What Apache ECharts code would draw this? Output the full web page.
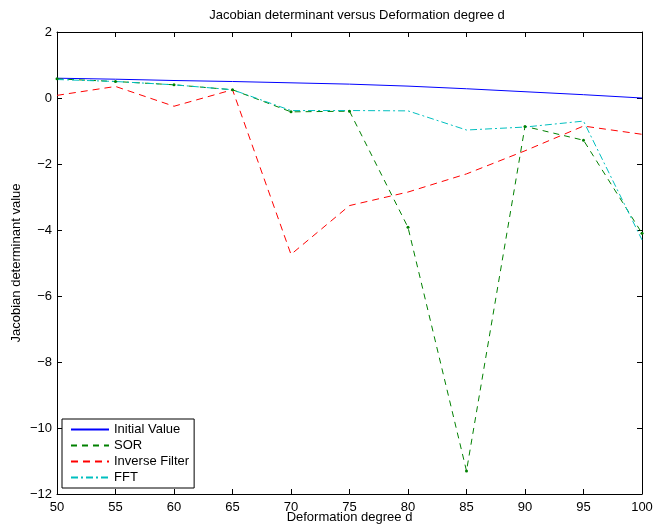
<!DOCTYPE html>
<html>
<head>
<meta charset="utf-8">
<script src="https://cdn.jsdelivr.net/npm/echarts@6/dist/echarts.min.js"></script>
<style>
    html, body { margin: 0; padding: 0; background: #fff; }
    #myChart { width: 655px; height: 527px; }
</style>
</head>
<body>
<div id="myChart"></div>
<script>
    // deformation degree d
    var degrees = [50, 55, 60, 65, 70, 75, 80, 85, 90, 95, 100];
    var initialValue = [0.6, 0.57, 0.53, 0.5, 0.46, 0.42, 0.36, 0.28, 0.19, 0.1, 0.0];
    var sor = [0.58, 0.5, 0.4, 0.25, -0.42, -0.4, -3.92, -11.3, -0.86, -1.28, -4.1];
    var inverseFilter = [0.08, 0.35, -0.25, 0.25, -4.74, -3.26, -2.85, -2.3, -1.6, -0.85, -1.1];
    var fft = [0.56, 0.5, 0.4, 0.25, -0.38, -0.38, -0.39, -0.97, -0.88, -0.7, -4.3];
    var xTicks = [50, 55, 60, 65, 70, 75, 80, 85, 90, 95, 100];
    var yTicks = [-12, -10, -8, -6, -4, -2, 0, 2];

    function pairs(vals) {
        var out = [];
        for (var i = 0; i < degrees.length; i++) {
            out.push([degrees[i], vals[i]]);
        }
        return out;
    }

    var font = 'Liberation Sans, Arial, Helvetica, sans-serif';
    var fs = 13;
    var axisLine = {show: true, onZero: false, lineStyle: {color: '#000', width: 1}};
    var axisTick = {show: true, inside: true, length: 5, lineStyle: {color: '#000'}};

    var myChart = echarts.init(document.getElementById('myChart'));
    myChart.setOption({
        animation: false,
        textStyle: {fontFamily: font},
        title: {
            text: 'Jacobian determinant versus Deformation degree d',
            left: 352,
            textAlign: 'center',
            top: 4,
            textStyle: {fontSize: fs, fontWeight: 'normal', color: '#000', fontFamily: font}
        },
        grid: {left: 57, right: 13, top: 32, bottom: 33, outerBoundsMode: 'none', containLabel: false},
        legend: {
            left: 62,
            top: 419,
            orient: 'vertical',
            backgroundColor: '#fff',
            borderColor: '#000',
            borderWidth: 1,
            borderRadius: 0,
            padding: [4, 5, 4, 8],
            itemGap: 3,
            itemWidth: 38,
            itemHeight: 11,
            itemStyle: {opacity: 0},
            textStyle: {fontSize: fs, color: '#000', fontFamily: font},
            data: ['Initial Value', 'SOR', 'Inverse Filter', 'FFT']
        },
        xAxis: [{
            type: 'value',
            min: 50,
            max: 100,
            interval: 5,
            name: 'Deformation degree d',
            nameLocation: 'middle',
            nameGap: 17,
            nameMoveOverlap: false,
            nameTextStyle: {fontSize: fs, color: '#000'},
            axisLine: axisLine,
            axisTick: axisTick,
            axisLabel: {fontSize: fs, color: '#000', margin: 7},
            splitLine: {show: false}
        }, {
            type: 'value',
            position: 'top',
            min: 50,
            max: 100,
            interval: 5,
            axisLine: axisLine,
            axisTick: axisTick,
            axisLabel: {show: false},
            splitLine: {show: false}
        }],
        yAxis: [{
            type: 'value',
            min: -12,
            max: 2,
            interval: 2,
            name: 'Jacobian determinant value',
            nameLocation: 'middle',
            nameGap: 34,
            nameMoveOverlap: false,
            nameTextStyle: {fontSize: fs, color: '#000'},
            axisLine: axisLine,
            axisTick: axisTick,
            axisLabel: {
                fontSize: fs, color: '#000', margin: 5,
                formatter: function (v) { return v < 0 ? '\u2212' + (-v) : String(v); }
            },
            splitLine: {show: false}
        }, {
            type: 'value',
            position: 'right',
            min: -12,
            max: 2,
            interval: 2,
            axisLine: axisLine,
            axisTick: axisTick,
            axisLabel: {show: false},
            splitLine: {show: false}
        }],
        series: [
            {
                name: 'Initial Value',
                type: 'line',
                data: pairs(initialValue),
                symbol: 'none',
                color: '#0000ff',
                lineStyle: {color: '#0000ff', width: 1}
            },
            {
                name: 'SOR',
                type: 'line',
                data: pairs(sor),
                symbol: 'circle',
                symbolSize: 3,
                color: '#008000',
                itemStyle: {color: '#008000'},
                lineStyle: {color: '#008000', width: 1, type: [6, 5]}
            },
            {
                name: 'Inverse Filter',
                type: 'line',
                data: pairs(inverseFilter),
                symbol: 'none',
                color: '#ff0000',
                lineStyle: {color: '#ff0000', width: 1, type: [7, 5]}
            },
            {
                name: 'FFT',
                type: 'line',
                data: pairs(fft),
                symbol: 'none',
                color: '#00bfbf',
                lineStyle: {color: '#00bfbf', width: 1, type: [7, 3, 2, 3]}
            }
        ]
    });
</script>
</body>
</html>
